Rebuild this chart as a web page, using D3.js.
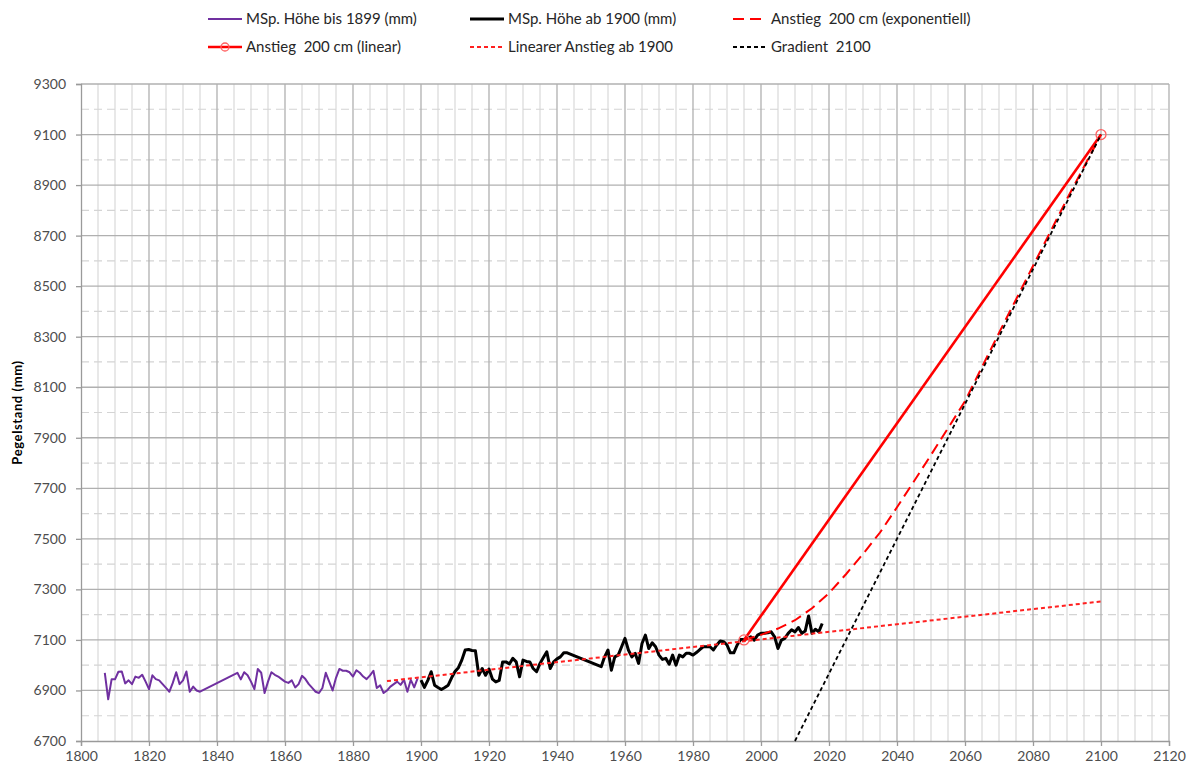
<!DOCTYPE html>
<html>
<head>
<meta charset="utf-8">
<script src="https://cdn.jsdelivr.net/npm/d3@7"></script>
<style>
  html, body { margin: 0; padding: 0; background: #fff; }
  svg { display: block; font-family: Lato, "Open Sans", sans-serif; }
  text { white-space: pre; }
</style>
</head>
<body>
<svg id="chart" width="1190" height="769"></svg>
<script>
// ---------------- data ----------------
const yearsBefore1900 = [1807,1808,1809,1810,1811,1812,1813,1814,1815,1816,1817,1818,1819,1820,1821,1822,1823,1824,1825,1826,1827,1828,1829,1830,1831,1832,1833,1834,1835,
  1846,1847,1848,1849,1850,1851,1852,1853,1854,1855,1856,1857,1858,1859,1860,1861,1862,1863,1864,1865,1866,1867,1868,1869,1870,1871,1872,1873,1874,1875,1876,1877,1878,1879,1880,1881,1882,1883,1884,1885,1886,1887,1888,1889,1890,1891,1892,1893,1894,1895,1896,1897,1898,1899];
const valuesBefore1900 = [6970,6865,6944,6944,6974,6975,6928,6940,6925,6955,6950,6962,6935,6905,6960,6945,6940,6925,6910,6895,6930,6972,6925,6940,6975,6895,6915,6900,6895,
  6970,6944,6972,6960,6935,6905,6985,6970,6890,6935,6972,6962,6955,6945,6935,6930,6940,6912,6925,6958,6945,6925,6910,6895,6890,6910,6970,6935,6900,6950,6985,6978,6978,6972,6955,6980,6970,6955,6945,6960,6978,6910,6920,6890,6900,6915,6925,6935,6922,6942,6895,6942,6912,6948];

const yearsFrom1900 = [1900,1901,1902,1903,1904,1905,1906,1907,1908,1909,1910,1911,1912,1913,1914,1915,1916,1917,1918,1919,1920,1921,1922,1923,1924,1925,1926,1927,1928,1929,1930,1931,1932,1933,1934,1935,1936,1937,1938,1939,1940,1941,1942,1943,
  1953,1954,1955,1956,1957,1958,1959,1960,1961,1962,1963,1964,1965,1966,1967,1968,1969,1970,1971,1972,1973,1974,1975,1976,1977,1978,1979,1980,1981,1982,1983,1984,1985,1986,1987,1988,1989,1990,1991,1992,1993,1994,1995,1996,1997,1998,1999,2000,2001,2002,2003,2004,2005,2006,2007,2008,2009,2010,2011,2012,2013,2014,2015,2016,2017,2018];
const valuesFrom1900 = [6941,6912,6940,6974,6921,6912,6904,6912,6921,6950,6975,6990,7020,7060,7062,7058,7057,6960,6987,6960,6985,6945,6934,6940,7013,7013,7005,7027,7013,6954,7020,7015,7013,6987,6974,7007,7030,7053,6987,7013,7025,7033,7049,7049,
  6994,7033,7060,6980,7033,7040,7073,7106,7060,7033,7047,7007,7086,7119,7066,7089,7073,7040,7023,7027,7004,7040,7000,7040,7033,7047,7047,7040,7050,7062,7073,7073,7073,7060,7080,7096,7093,7080,7049,7049,7080,7102,7102,7105,7112,7099,7119,7126,7126,7128,7132,7112,7066,7099,7106,7126,7140,7132,7149,7126,7135,7195,7126,7142,7132,7165];

const yearsExponential = [1995,2000,2005,2010,2015,2020,2025,2030,2035,2040,2045,2050,2055,2060,2070,2080,2090,2100];
const valuesExponential = [7100,7120,7145,7178,7225,7285,7360,7440,7525,7625,7728,7832,7938,8045,8315,8580,8845,9100];

const yearsLinear = [1995, 2100];
const valuesLinear = [7100, 9100];

const yearsTrend1900 = [1890, 2100];
const valuesTrend1900 = [6937, 7252];

const yearsGradient = [2010, 2100];
const valuesGradient = [6700, 9100];

const xTicks = [1800,1820,1840,1860,1880,1900,1920,1940,1960,1980,2000,2020,2040,2060,2080,2100,2120];
const yTicks = [6700,6900,7100,7300,7500,7700,7900,8100,8300,8500,8700,8900,9100,9300];

const legendLabels = ["MSp. Höhe bis 1899 (mm)", "MSp. Höhe ab 1900 (mm)", "Anstieg  200 cm (exponentiell)",
                      "Anstieg  200 cm (linear)", "Linearer Anstieg ab 1900", "Gradient  2100"];
const yTitle = "Pegelstand (mm)";

// ---------------- chart ----------------
const svg = d3.select("#chart");
const x = d3.scaleLinear().domain([1800, 2120]).range([81, 1169]);
const y = d3.scaleLinear().domain([6700, 9300]).range([741, 84]);

const zip = (xs, vs) => xs.map((d, i) => [d, vs[i]]);

// grid
const grid = svg.append("g");
const minorYears = d3.range(1805, 2120, 5).filter(d => d % 20 !== 0);
grid.selectAll(".vminor").data(minorYears).join("line")
  .attr("x1", d => x(d)).attr("x2", d => x(d))
  .attr("y1", y(9300)).attr("y2", y(6700))
  .attr("stroke", "#d9d9d9").attr("stroke-width", 1.2);
const minorVals = d3.range(6800, 9300, 200);
grid.selectAll(".hminor").data(minorVals).join("line")
  .attr("x1", x(1800)).attr("x2", x(2120))
  .attr("y1", d => y(d)).attr("y2", d => y(d))
  .attr("stroke", "#d4d4d4").attr("stroke-width", 1.2).attr("stroke-dasharray", "8,5");
grid.selectAll(".vmajor").data(xTicks.slice(1)).join("line")
  .attr("x1", d => x(d)).attr("x2", d => x(d))
  .attr("y1", y(9300)).attr("y2", y(6700))
  .attr("stroke", "#b0b0b0").attr("stroke-width", 1.3);
grid.selectAll(".hmajor").data(yTicks.slice(1)).join("line")
  .attr("x1", x(1800)).attr("x2", x(2120))
  .attr("y1", d => y(d)).attr("y2", d => y(d))
  .attr("stroke", "#b0b0b0").attr("stroke-width", 1.3);

// axes
const xAxis = svg.append("g").attr("transform", `translate(0,${y(6700)})`)
  .call(d3.axisBottom(x).tickValues(xTicks).tickFormat(d3.format("d")).tickSize(5).tickPadding(5));
const yAxis = svg.append("g").attr("transform", `translate(${x(1800)},0)`)
  .call(d3.axisLeft(y).tickValues(yTicks).tickFormat(d3.format("d")).tickSize(5).tickPadding(10));
[xAxis, yAxis].forEach(a => {
  a.select(".domain").attr("stroke", "#9a9a9a").attr("stroke-width", 1.3);
  a.selectAll(".tick line").attr("stroke", "#9a9a9a").attr("stroke-width", 1.3);
  a.selectAll("text").attr("fill", "#4d4d4d").style("font-size", "14px").style("font-family", "Lato, sans-serif");
});

svg.append("text")
  .attr("transform", `translate(22,${(y(6700)+y(9300))/2}) rotate(-90)`)
  .attr("text-anchor", "middle")
  .style("font-size", "13px").style("font-weight", "bold").style("letter-spacing", "0.6px").attr("fill", "#000")
  .text(yTitle);

// lines
const line = d3.line().x(d => x(d[0])).y(d => y(d[1]));
const plot = svg.append("g");

plot.append("path").datum(zip(yearsBefore1900, valuesBefore1900)).attr("d", line)
  .attr("fill", "none").attr("stroke", "#7030a0").attr("stroke-width", 2).attr("stroke-linejoin", "round");
plot.append("path").datum(zip(yearsFrom1900, valuesFrom1900)).attr("d", line)
  .attr("fill", "none").attr("stroke", "#000").attr("stroke-width", 3).attr("stroke-linejoin", "round");
plot.append("path").datum(zip(yearsTrend1900, valuesTrend1900)).attr("d", line)
  .attr("fill", "none").attr("stroke", "#ff2020").attr("stroke-width", 2).attr("stroke-dasharray", "4,3");
plot.append("path").datum(zip(yearsExponential, valuesExponential)).attr("d", line)
  .attr("fill", "none").attr("stroke", "#ff0000").attr("stroke-width", 2).attr("stroke-dasharray", "11,6");
plot.append("path").datum(zip(yearsLinear, valuesLinear)).attr("d", line)
  .attr("fill", "none").attr("stroke", "#ff0000").attr("stroke-width", 2.6);
plot.selectAll(".mk").data(zip(yearsLinear, valuesLinear)).join("circle")
  .attr("cx", d => x(d[0])).attr("cy", d => y(d[1])).attr("r", 5)
  .attr("fill", "none").attr("stroke", "#ff6060").attr("stroke-width", 1.3);
plot.append("path").datum(zip(yearsGradient, valuesGradient)).attr("d", line)
  .attr("fill", "none").attr("stroke", "#000").attr("stroke-width", 1.8).attr("stroke-dasharray", "4,3");

// legend
const legendItems = [
  {col: 0, row: 0, stroke: "#7030a0", w: 2, dash: null, marker: false},
  {col: 1, row: 0, stroke: "#000", w: 3, dash: null, marker: false},
  {col: 2, row: 0, stroke: "#ff0000", w: 2, dash: "11,6", marker: false},
  {col: 0, row: 1, stroke: "#ff0000", w: 2.6, dash: null, marker: true},
  {col: 1, row: 1, stroke: "#ff2020", w: 2, dash: "4,3", marker: false},
  {col: 2, row: 1, stroke: "#000", w: 1.8, dash: "4,3", marker: false}
];
const colX = [208, 470, 733];
const rowY = [19, 47];
const lg = svg.append("g");
legendItems.forEach((it, i) => {
  const x0 = colX[it.col], yy = rowY[it.row];
  lg.append("line").attr("x1", x0).attr("x2", x0 + 34).attr("y1", yy).attr("y2", yy)
    .attr("stroke", it.stroke).attr("stroke-width", it.w).attr("stroke-dasharray", it.dash);
  if (it.marker) lg.append("circle").attr("cx", x0 + 17).attr("cy", yy).attr("r", 4)
    .attr("fill", "none").attr("stroke", "#ff6060").attr("stroke-width", 1.3);
  lg.append("text").attr("x", x0 + 38).attr("y", yy + 5)
    .style("font-size", "15px").attr("fill", "#262626").text(legendLabels[i]);
});
</script>
</body>
</html>
